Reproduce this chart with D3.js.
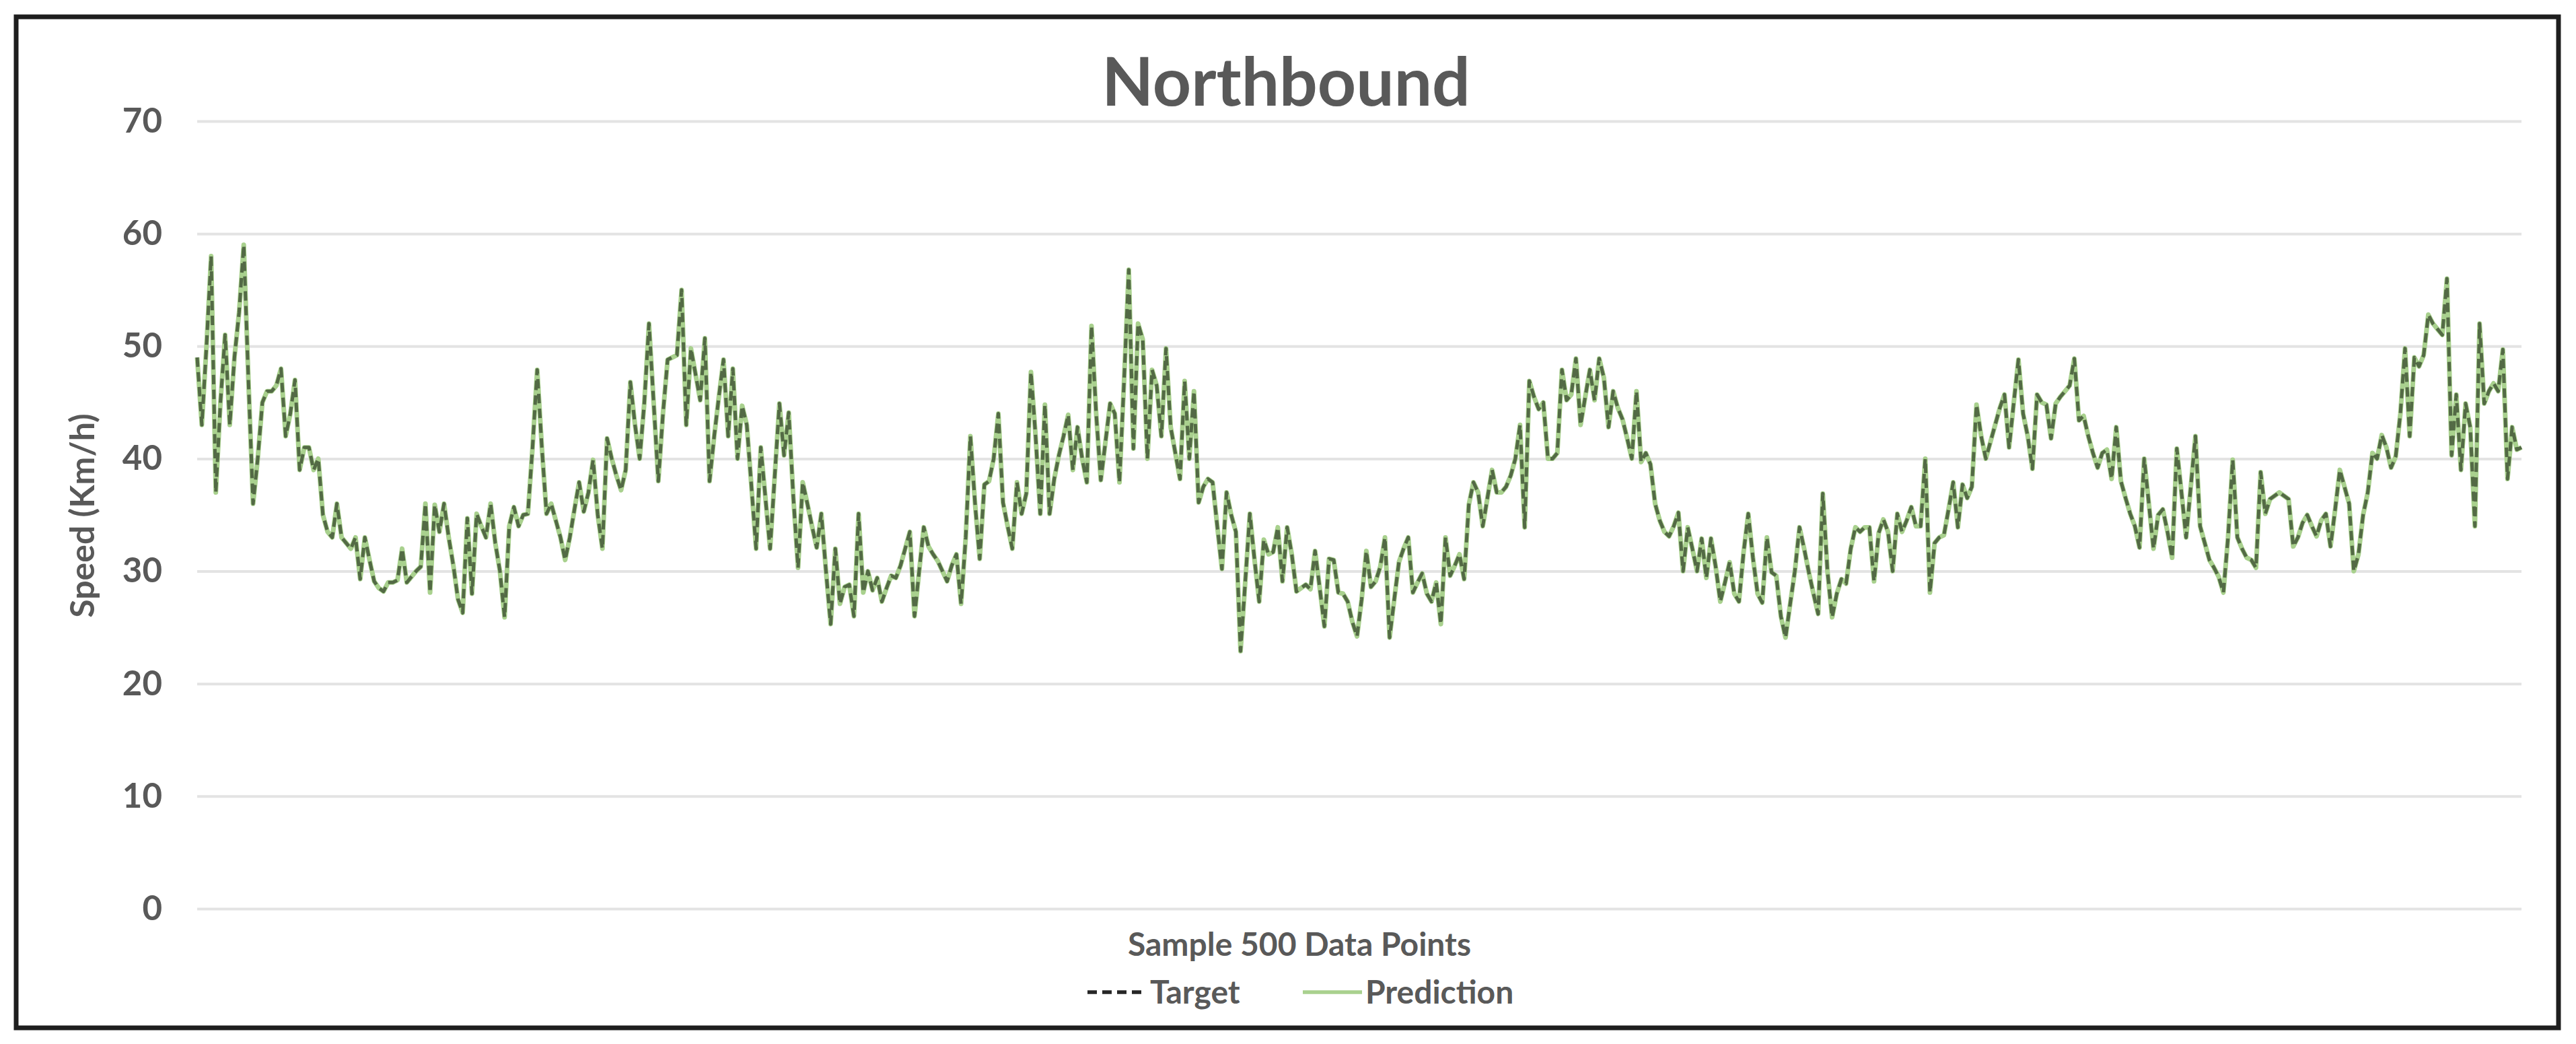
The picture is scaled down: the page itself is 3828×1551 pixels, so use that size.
<!DOCTYPE html>
<html><head><meta charset="utf-8">
<script src="https://cdn.jsdelivr.net/npm/d3@7"></script>
<style>html,body{margin:0;padding:0;background:#fff;}svg{display:block;}</style>
</head><body>
<svg id="chart" width="3828" height="1551"></svg>
<script>
const chartTitle = "Northbound";
const xAxisTitle = "Sample 500 Data Points";
const yAxisTitle = "Speed (Km/h)";
const yTickValues = [0, 10, 20, 30, 40, 50, 60, 70];
const seriesNames = ["Target", "Prediction"];

// Target speed (Km/h), 500 samples
const target = [
49,43,50,58,37,45,51,43,49,53,
59,47,36,40,45,46,46,46.5,48,42,
44,47,39,41,41,39,40,35,33.5,33,
36,33,32.5,32,33,29.3,33,31,29.1,28.5,
28.2,29,29,29.2,32,29,29.5,30,30.4,36,
28.1,35.9,33.5,36,33,30.5,27.5,26.3,34.7,28,
35.1,34,33,36,32.5,30,25.9,34,35.7,34,
35,35.1,41,47.9,41,35.1,36,34.5,33,31,
33,35.5,37.9,35.3,37,39.9,35,32,41.8,40,
38.5,37.2,39,46.8,43,40,45,52,45,38,
44,48.8,49,49.2,55,43,49.8,47.5,45.2,50.7,
38,42,45.5,48.8,42,48,40,44.7,43,37.5,
32,41,36.5,32,38.5,44.9,40.3,44.1,36.5,30.3,
37.9,36,34,32.1,35.1,30,25.3,32,27.1,28.6,
28.8,26,35.1,28.1,30,28.3,29.4,27.3,28.5,29.6,
29.4,30.5,32,33.5,26,30,33.9,32.2,31.5,30.9,
30,29.1,30.5,31.5,27.1,33,42,36,31.1,37.7,
38,40,44,36.1,34,32,37.9,35.1,36.9,47.7,
42,35.1,44.8,35.1,38.2,40.3,42,43.9,39,42.8,
40,37.9,51.8,44,38.1,41.5,44.9,44,37.9,47,
56.8,40.9,52,50.6,40,47.9,46.5,42,49.8,42.8,
40.5,38.2,46.9,40,46,36.1,37.5,38.2,37.9,34,
30.2,37,35,33.5,22.9,29,35.1,31,27.3,32.8,
31.5,31.7,33.9,29.1,33.9,31.5,28.2,28.5,28.8,28.4,
31.8,28.5,25.1,31.1,31,28.1,28,27.3,25.5,24.2,
27.5,31.8,28.6,29.1,30.4,33,24.1,27.5,30.8,32,
33,28.1,29,29.8,28,27.3,29,25.3,33,29.6,
30.5,31.5,29.3,35.9,37.9,37,34,36.5,39,37,
37,37.5,38.5,40,43,33.9,46.9,45.5,44.4,45,
40,40,40.5,47.9,45.2,45.7,48.9,43,45.5,47.9,
45.2,48.9,47.2,42.8,46,44.5,43.5,41.8,40,46,
39.7,40.5,39.5,36,34.5,33.5,33.1,34,35.2,30,
33.9,32,30,32.9,29.4,32.9,30.4,27.3,29,30.8,
28,27.3,31.7,35.1,31.2,28,27.2,33,29.9,29.6,
26,24.1,27.1,30,33.9,32,29.9,28,26.2,36.9,
30,25.9,28,29.3,28.9,32,33.9,33.5,33.9,33.9,
29.1,33.4,34.6,33.5,30,35.1,33.5,34.5,35.7,34,
34,40,28.1,32.5,33,33.2,35.5,37.9,33.9,37.7,
36.5,37.5,44.8,42,40,41.5,43,44.5,45.7,41,
45,48.8,44,42,39.1,45.7,45,44.8,41.8,44.9,
45.5,46,46.5,48.9,43.4,43.8,42,40.5,39.2,40.5,
40.8,38.2,42.8,38,36.5,35.1,34,32.1,40,36,
32,35,35.5,33.5,31.2,40.9,37,33,37.5,42,
34,32.5,31,30.3,29.5,28.1,33,39.9,33,32,
31.2,31,30.3,38.8,35.1,36.4,36.7,37,36.7,36.4,
32.2,33,34.3,35,34,33.1,34.5,35.1,32.2,35.5,
39,37.5,36,30,31.5,35,37,40.5,40,42.1,
41,39.2,40.2,44,49.8,42,49,48.2,49.2,52.8,
52,51.5,51,56,40.3,45.7,39,44.9,42.8,34,
52,44.9,46,46.7,46,49.7,38.2,42.8,40.8,41
];

// Prediction: drawn under the target and indistinguishable from it in the picture
const prediction = [
49,43,50,58,37,45,51,43,49,53,
59,47,36,40,45,46,46,46.5,48,42,
44,47,39,41,41,39,40,35,33.5,33,
36,33,32.5,32,33,29.3,33,31,29.1,28.5,
28.2,29,29,29.2,32,29,29.5,30,30.4,36,
28.1,35.9,33.5,36,33,30.5,27.5,26.3,34.7,28,
35.1,34,33,36,32.5,30,25.9,34,35.7,34,
35,35.1,41,47.9,41,35.1,36,34.5,33,31,
33,35.5,37.9,35.3,37,39.9,35,32,41.8,40,
38.5,37.2,39,46.8,43,40,45,52,45,38,
44,48.8,49,49.2,55,43,49.8,47.5,45.2,50.7,
38,42,45.5,48.8,42,48,40,44.7,43,37.5,
32,41,36.5,32,38.5,44.9,40.3,44.1,36.5,30.3,
37.9,36,34,32.1,35.1,30,25.3,32,27.1,28.6,
28.8,26,35.1,28.1,30,28.3,29.4,27.3,28.5,29.6,
29.4,30.5,32,33.5,26,30,33.9,32.2,31.5,30.9,
30,29.1,30.5,31.5,27.1,33,42,36,31.1,37.7,
38,40,44,36.1,34,32,37.9,35.1,36.9,47.7,
42,35.1,44.8,35.1,38.2,40.3,42,43.9,39,42.8,
40,37.9,51.8,44,38.1,41.5,44.9,44,37.9,47,
56.8,40.9,52,50.6,40,47.9,46.5,42,49.8,42.8,
40.5,38.2,46.9,40,46,36.1,37.5,38.2,37.9,34,
30.2,37,35,33.5,22.9,29,35.1,31,27.3,32.8,
31.5,31.7,33.9,29.1,33.9,31.5,28.2,28.5,28.8,28.4,
31.8,28.5,25.1,31.1,31,28.1,28,27.3,25.5,24.2,
27.5,31.8,28.6,29.1,30.4,33,24.1,27.5,30.8,32,
33,28.1,29,29.8,28,27.3,29,25.3,33,29.6,
30.5,31.5,29.3,35.9,37.9,37,34,36.5,39,37,
37,37.5,38.5,40,43,33.9,46.9,45.5,44.4,45,
40,40,40.5,47.9,45.2,45.7,48.9,43,45.5,47.9,
45.2,48.9,47.2,42.8,46,44.5,43.5,41.8,40,46,
39.7,40.5,39.5,36,34.5,33.5,33.1,34,35.2,30,
33.9,32,30,32.9,29.4,32.9,30.4,27.3,29,30.8,
28,27.3,31.7,35.1,31.2,28,27.2,33,29.9,29.6,
26,24.1,27.1,30,33.9,32,29.9,28,26.2,36.9,
30,25.9,28,29.3,28.9,32,33.9,33.5,33.9,33.9,
29.1,33.4,34.6,33.5,30,35.1,33.5,34.5,35.7,34,
34,40,28.1,32.5,33,33.2,35.5,37.9,33.9,37.7,
36.5,37.5,44.8,42,40,41.5,43,44.5,45.7,41,
45,48.8,44,42,39.1,45.7,45,44.8,41.8,44.9,
45.5,46,46.5,48.9,43.4,43.8,42,40.5,39.2,40.5,
40.8,38.2,42.8,38,36.5,35.1,34,32.1,40,36,
32,35,35.5,33.5,31.2,40.9,37,33,37.5,42,
34,32.5,31,30.3,29.5,28.1,33,39.9,33,32,
31.2,31,30.3,38.8,35.1,36.4,36.7,37,36.7,36.4,
32.2,33,34.3,35,34,33.1,34.5,35.1,32.2,35.5,
39,37.5,36,30,31.5,35,37,40.5,40,42.1,
41,39.2,40.2,44,49.8,42,49,48.2,49.2,52.8,
52,51.5,51,56,40.3,45.7,39,44.9,42.8,34,
52,44.9,46,46.7,46,49.7,38.2,42.8,40.8,41
];

const FONT = "Lato, 'Open Sans', 'Liberation Sans', sans-serif";
const TEXT = "#595959";
const GREEN = "#a9d18e";

const svg = d3.select("#chart");
const plot = {left: 293, right: 3747, top: 180, bottom: 1350};

const x = d3.scaleLinear().domain([0, target.length - 1]).range([plot.left, plot.right]);
const y = d3.scaleLinear().domain([0, 70]).range([plot.bottom, plot.top]);

svg.append("rect").attr("width", 3828).attr("height", 1551).attr("fill", "#fff");

// frame
svg.append("rect")
  .attr("x", 24).attr("y", 25).attr("width", 3778).attr("height", 1502)
  .attr("fill", "none").attr("stroke", "#1e1e1e").attr("stroke-width", 7);

// y axis with gridlines
const yAxis = d3.axisLeft(y).tickValues(yTickValues)
  .tickSize(-(plot.right - plot.left)).tickPadding(52).tickFormat(d3.format("d"));
const gy = svg.append("g").attr("transform", `translate(${plot.left},0)`).call(yAxis);
gy.select(".domain").remove();
gy.selectAll(".tick line").attr("stroke", "#e3e3e3").attr("stroke-width", 4);
gy.selectAll(".tick text")
  .attr("fill", TEXT).attr("font-family", FONT).attr("font-weight", 700)
  .attr("font-size", 51);

// lines
const line = d3.line().x((d, i) => x(i)).y(d => y(d));
svg.append("path").datum(prediction).attr("d", line)
  .attr("fill", "none").attr("stroke", GREEN).attr("stroke-width", 7)
  .attr("stroke-linejoin", "round");
svg.append("path").datum(target).attr("d", line)
  .attr("fill", "none").attr("stroke", "#1f2a18").attr("stroke-opacity", 0.62)
  .attr("stroke-width", 5).attr("stroke-dasharray", "14,8")
  .attr("stroke-linejoin", "round");

// title
svg.append("text").text(chartTitle)
  .attr("x", 1911).attr("y", 157).attr("text-anchor", "middle")
  .attr("font-family", FONT).attr("font-weight", 700).attr("font-size", 100)
  .attr("fill", TEXT);

// y axis title
svg.append("text").text(yAxisTitle)
  .attr("transform", "translate(122,766) rotate(-90)")
  .attr("text-anchor", "middle").attr("dy", "0.35em")
  .attr("font-family", FONT).attr("font-weight", 700).attr("font-size", 50)
  .attr("fill", TEXT);

// x axis title
svg.append("text").text(xAxisTitle)
  .attr("x", 1931).attr("y", 1420).attr("text-anchor", "middle")
  .attr("font-family", FONT).attr("font-weight", 700).attr("font-size", 48)
  .attr("fill", TEXT);

// legend
const legend = svg.append("g").attr("font-family", FONT).attr("font-weight", 700)
  .attr("font-size", 48).attr("fill", TEXT);
const legendItems = [
  {name: seriesNames[0], x0: 1616, stroke: "#000", dash: "14,8", op: 0.85},
  {name: seriesNames[1], x0: 1936, stroke: GREEN, dash: null, op: 1}
];
legendItems.forEach(it => {
  legend.append("line").attr("x1", it.x0).attr("x2", it.x0 + 88)
    .attr("y1", 1474).attr("y2", 1474)
    .attr("stroke", it.stroke).attr("stroke-width", 5.5)
    .attr("stroke-opacity", it.op)
    .attr("stroke-dasharray", it.dash);
  legend.append("text").text(it.name).attr("x", it.x0 + 93).attr("y", 1474)
    .attr("dy", "0.35em");
});
</script>
</body></html>
